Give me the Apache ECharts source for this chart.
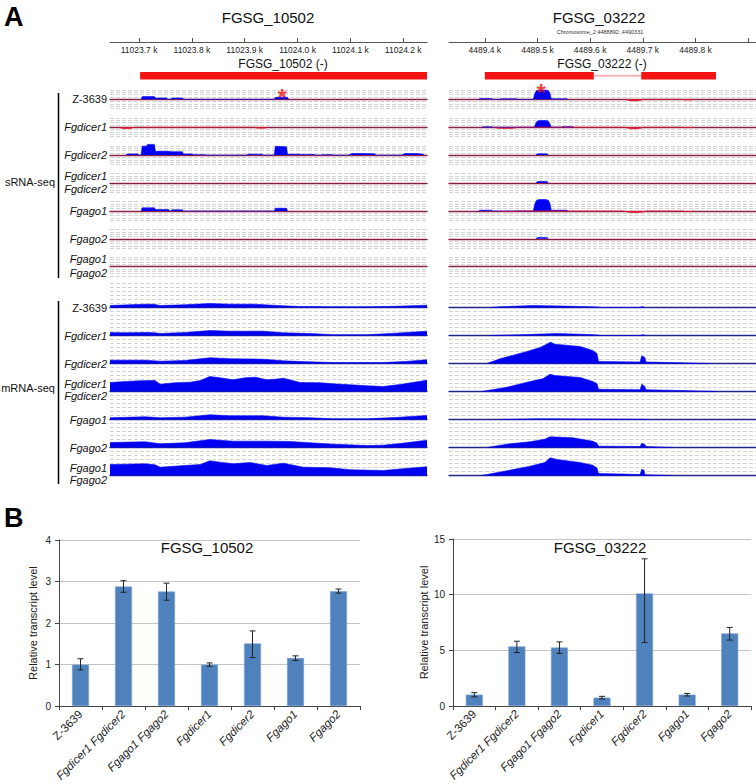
<!DOCTYPE html>
<html><head><meta charset="utf-8">
<script src="https://cdn.jsdelivr.net/npm/echarts@6/dist/echarts.min.js"></script>
<style>html,body{margin:0;padding:0;background:#fff}#c{width:756px;height:784px}</style>
</head><body><div id="c"></div>
<script>
// ================= DATA =================
// Panel A – genome browser (positions in bp, coverage in track units)
const leftRange = [11023645, 11024245];
const rightRange = [4489332, 4489915];
const leftRulerTicks = [11023700, 11023800, 11023900, 11024000, 11024100, 11024200];
const rightRulerLabels = [4489400, 4489500, 4489600, 4489700, 4489800];
const rightRulerTicks = [4489400, 4489500, 4489600, 4489700, 4489800, 4489900];
const geneLeft = [[11023702, 11024245, 1]];
const geneRight = [[4489400, 4489607, 1], [4489607, 4489697, 0], [4489697, 4489839, 1]];
const trackNames = [['Z-3639'], ['Fgdicer1'], ['Fgdicer2'], ['Fgdicer1', 'Fgdicer2'], ['Fgago1'], ['Fgago2'], ['Fgago1', 'Fgago2']];
const starLeft = [[11023971, 3.3]];
const starRight = [[4489507, 5.3]];

// sRNA-seq, FGSG_10502 (plus strand positive, minus strand negative)
const sL_Z_plus = [[11023704,0],[11023706,1.15],[11023729,1.15],[11023731,0.55],[11023752,0.55],[11023754,0],[11023760,0],[11023762,0.55],[11023782,0.55],[11023784,0],[11023956,0],[11023958,0.85],[11023981,0.85],[11023983,0]];
const sL_D1_minus = [[11023662,0],[11023668,-0.55],[11023677,-0.65],[11023685,-0.55],[11023691,0],[11023918,0],[11023924,-0.4],[11023938,-0.4],[11023944,0]];
const sL_D2_plus = [[11023675,0],[11023678,0.5],[11023698,0.5],[11023700,0],[11023704,0],[11023706,3.85],[11023714,3.85],[11023716,4.6],[11023729,4.6],[11023731,1.6],[11023758,1.6],[11023760,1.45],[11023782,1.45],[11023784,0.5],[11023801,0.5],[11023803,0.2],[11023825,0.2],[11023827,0],[11023903,0],[11023906,0.4],[11023932,0.4],[11023935,0],[11023956,0],[11023958,3.75],[11023968,3.7],[11023979,3.55],[11023981,0.4],[11024004,0.4],[11024006,0.3],[11024032,0.3],[11024034,0],[11024045,0],[11024047,0.2],[11024066,0.2],[11024068,0],[11024096,0],[11024102,0.65],[11024120,0.7],[11024145,0.6],[11024149,0],[11024197,0],[11024203,0.7],[11024225,0.65],[11024236,0.5],[11024240,0]];
const sL_A1_plus = [[11023704,0],[11023706,1.3],[11023729,1.3],[11023731,0.55],[11023756,0.55],[11023758,0],[11023760,0],[11023762,0.45],[11023782,0.45],[11023784,0],[11023956,0],[11023958,1.15],[11023979,1.1],[11023981,0]];

// sRNA-seq, FGSG_03222
const sR_Z_plus = [[4489388,0],[4489392,0.3],[4489412,0.3],[4489416,0],[4489427,0],[4489431,0.2],[4489459,0.2],[4489463,0],[4489492,0],[4489495,2.5],[4489498,3.7],[4489503,4.0],[4489516,4.0],[4489521,3.7],[4489524,2.5],[4489526,0.2],[4489555,0.2],[4489558,0]];
const sR_Z_minus = [[4489666,0],[4489674,-0.6],[4489684,-0.75],[4489694,-0.6],[4489702,0],[4489774,0],[4489780,-0.3],[4489791,-0.3],[4489797,0]];
const sR_D1_plus = [[4489394,0],[4489397,0.2],[4489413,0.2],[4489416,0],[4489494,0],[4489497,1.8],[4489500,2.7],[4489505,2.9],[4489515,2.9],[4489520,2.7],[4489523,1.8],[4489526,0],[4489544,0],[4489547,0.2],[4489566,0.2],[4489569,0]];
const sR_D1_minus = [[4489414,0],[4489425,-0.45],[4489440,-0.6],[4489455,-0.45],[4489463,0],[4489666,0],[4489674,-0.6],[4489684,-0.75],[4489694,-0.6],[4489702,0],[4489774,0],[4489780,-0.2],[4489791,-0.2],[4489797,0]];
const sR_D2_plus = [[4489497,0],[4489500,0.55],[4489518,0.55],[4489521,0]];
const sR_D12_plus = [[4489497,0],[4489500,0.6],[4489518,0.6],[4489521,0]];
const sR_A1_plus = [[4489388,0],[4489392,0.3],[4489412,0.3],[4489416,0],[4489492,0],[4489495,3.0],[4489498,4.5],[4489503,4.9],[4489516,4.9],[4489521,4.5],[4489524,3.0],[4489526,0.3],[4489555,0.3],[4489558,0]];
const sR_A1_minus = [[4489427,0],[4489433,-0.3],[4489455,-0.3],[4489461,0],[4489664,0],[4489672,-0.6],[4489684,-0.75],[4489698,-0.6],[4489708,0],[4489774,0],[4489780,-0.25],[4489791,-0.25],[4489797,0]];
const sR_A2_plus = [[4489497,0],[4489500,0.55],[4489518,0.55],[4489521,0]];

// mRNA-seq, FGSG_10502
const mL_Z = [[11023645,0.5],[11023683,0.68],[11023711,0.83],[11023727,0.83],[11023740,0.5],[11023787,0.68],[11023834,1.0],[11023872,0.83],[11023916,0.83],[11023973,0.43],[11024005,0.25],[11024067,0.2],[11024138,0.2],[11024185,0.3],[11024245,0.58]];
const mL_D1 = [[11023645,0.75],[11023674,0.68],[11023711,0.75],[11023730,0.68],[11023740,0.5],[11023787,0.75],[11023834,1.25],[11023872,1.08],[11023935,1.08],[11023973,0.68],[11024024,0.5],[11024067,0.2],[11024132,0.2],[11024185,0.58],[11024245,1.08]];
const mL_D2 = [[11023645,0.83],[11023711,0.83],[11023740,0.58],[11023787,0.75],[11023834,1.43],[11023872,1.18],[11023935,1.08],[11023973,0.68],[11024005,0.5],[11024067,0.25],[11024162,0.25],[11024204,0.5],[11024245,0.93]];
const mL_D12 = [[11023645,2.25],[11023674,2.5],[11023702,2.68],[11023730,2.75],[11023740,1.83],[11023768,2.18],[11023797,2.33],[11023816,2.75],[11023834,3.75],[11023853,3.43],[11023878,2.93],[11023901,3.43],[11023920,3.58],[11023942,2.93],[11023958,3.08],[11023973,3.33],[11024005,2.25],[11024043,2.18],[11024067,1.93],[11024100,1.68],[11024132,1.43],[11024162,1.25],[11024194,1.75],[11024245,2.83]];
const mL_A1 = [[11023645,0.43],[11023711,0.68],[11023740,0.43],[11023787,0.58],[11023834,1.18],[11023872,0.93],[11023935,0.93],[11023973,0.58],[11024024,0.43],[11024067,0.18],[11024132,0.18],[11024185,0.5],[11024245,1.0]];
const mL_A2 = [[11023645,1.25],[11023711,1.43],[11023740,0.93],[11023787,1.18],[11023834,2.0],[11023878,1.58],[11023942,1.58],[11023986,1.5],[11024067,0.83],[11024132,0.5],[11024162,0.58],[11024194,1.0],[11024245,1.83]];
const mL_A12 = [[11023645,2.75],[11023674,2.83],[11023711,2.93],[11023730,2.68],[11023740,2.08],[11023787,2.5],[11023816,2.75],[11023834,3.68],[11023853,3.33],[11023878,2.93],[11023910,3.25],[11023942,2.5],[11023973,3.08],[11024011,2.08],[11024062,1.93],[11024100,1.43],[11024162,1.25],[11024204,1.75],[11024245,2.18]];

// mRNA-seq, FGSG_03222
const mR_Z = [[4489410,0],[4489429,0.18],[4489491,0.5],[4489543,0.38],[4489615,0.13],[4489619,0],[4489695,0],[4489698,0.25],[4489704,0]];
const mR_D1 = [[4489410,0],[4489467,0.18],[4489537,0.5],[4489581,0.33],[4489615,0.13],[4489619,0],[4489695,0],[4489700,0.2],[4489706,0]];
const mR_D2 = [[4489404,0],[4489429,1.18],[4489480,3.0],[4489505,4.0],[4489520,5.0],[4489525,5.33],[4489533,4.83],[4489581,4.25],[4489605,3.25],[4489613,2.5],[4489616,0.5],[4489657,0.43],[4489695,0.38],[4489698,1.93],[4489704,1.5],[4489706,0.38],[4489752,0.25],[4489809,0.05],[4489828,0]];
const mR_D12 = [[4489394,0],[4489442,1.08],[4489486,2.5],[4489510,3.18],[4489524,4.33],[4489533,4.0],[4489581,3.5],[4489605,2.5],[4489613,2.0],[4489616,0.55],[4489657,0.5],[4489695,0.43],[4489698,1.83],[4489704,1.25],[4489706,0.43],[4489771,0.25],[4489841,0]];
const mR_A1 = [[4489429,0],[4489505,0.18],[4489581,0.13],[4489695,0.05],[4489714,0]];
const mR_A2 = [[4489404,0],[4489442,0.83],[4489486,1.43],[4489514,2.08],[4489524,2.68],[4489567,2.43],[4489605,1.58],[4489613,1.1],[4489616,0.33],[4489695,0.25],[4489698,1.08],[4489704,0.75],[4489706,0.25],[4489757,0]];
const mR_A12 = [[4489394,0],[4489442,1.18],[4489486,2.33],[4489514,3.25],[4489524,4.43],[4489537,4.0],[4489581,3.25],[4489605,2.58],[4489613,1.9],[4489616,0.5],[4489657,0.38],[4489695,0.25],[4489698,1.58],[4489702,1.38],[4489704,0.2],[4489757,0]];

// Panel B – qRT-PCR
const categories = ['Z-3639', 'Fgdicer1 Fgdicer2', 'Fgago1 Fgago2', 'Fgdicer1', 'Fgdicer2', 'Fgago1', 'Fgago2'];
const val10502 = [1.0, 2.88, 2.76, 1.0, 1.51, 1.16, 2.77];
const low10502 = [0.87, 2.74, 2.55, 0.96, 1.17, 1.10, 2.72];
const high10502 = [1.14, 3.02, 2.96, 1.04, 1.81, 1.21, 2.82];
const val03222 = [1.02, 5.35, 5.25, 0.75, 10.12, 1.02, 6.52];
const low03222 = [0.82, 4.80, 4.72, 0.63, 5.70, 0.90, 5.92];
const high03222 = [1.20, 5.82, 5.76, 0.87, 13.22, 1.13, 7.06];

// ================= LAYOUT / STYLE =================
const FONT = '"Liberation Sans", Arial, Helvetica, sans-serif';
const BLUE = '#0000f0', RED = '#e2162b', MAROON = '#8a2049', NAVY = '#25258e', DASH = '#d4d4d4';
const SIDE_L = {left: 110, width: 317}, SIDE_R = {left: 449, width: 307};
const sBase = [99.3, 127.2, 155.1, 183, 210.9, 238.8, 266.7];
const mBase = [307.5, 335.5, 363.5, 391.5, 419.5, 447.5, 475.5];
const S_UNIT = 2.33, M_UNIT = 4;

const srnaLeft = [[sL_Z_plus], [sL_D1_minus], [sL_D2_plus], [], [sL_A1_plus], [], []];
const srnaRight = [[sR_Z_plus, sR_Z_minus], [sR_D1_plus, sR_D1_minus], [sR_D2_plus], [sR_D12_plus], [sR_A1_plus, sR_A1_minus], [sR_A2_plus], []];
const mrnaLeft = [mL_Z, mL_D1, mL_D2, mL_D12, mL_A1, mL_A2, mL_A12];
const mrnaRight = [mR_Z, mR_D1, mR_D2, mR_D12, mR_A1, mR_A2, mR_A12];

const grids = [], xAxes = [], yAxes = [], series = [], graphics = [];
function addGrid(g, xa, ya) {
  const i = grids.length;
  grids.push(g); xa.gridIndex = i; ya.gridIndex = i; xAxes.push(xa); yAxes.push(ya);
  return i;
}
function trackGrid(side, range, top, height, ymin, ymax, baseColor) {
  return addGrid({left: side.left, top: top, width: side.width, height: height},
    {type: 'value', min: range[0], max: range[1], axisLine: {show: true, onZero: true, lineStyle: {color: baseColor, width: 1.4}},
      axisTick: {show: false}, axisLabel: {show: false}, splitLine: {show: false}},
    {type: 'value', min: ymin, max: ymax, interval: 1, axisLine: {show: false}, axisTick: {show: false}, axisLabel: {show: false},
      splitLine: {show: true, lineStyle: {color: DASH, width: 1, type: [4, 2]}}});
}
function areaSeries(gi, data) {
  const neg = data.some(d => d[1] < 0);
  const c = neg ? RED : BLUE;
  return {type: 'line', xAxisIndex: gi, yAxisIndex: gi, data: data, symbol: 'none', showSymbol: false, silent: true, clip: false,
    animation: false, lineStyle: {color: c, width: 0.6}, areaStyle: {color: c, opacity: 1}, z: 3};
}
function starSeries(gi, data) {
  return {type: 'scatter', xAxisIndex: gi, yAxisIndex: gi, data: data, symbolSize: 1, itemStyle: {color: 'rgba(0,0,0,0)'}, clip: false, silent: true, z: 6,
    label: {show: true, position: 'inside', formatter: '*', color: '#ee1111', fontSize: 24, fontWeight: 'bold', fontFamily: FONT, offset: [0, 6]}};
}
function text(x, y, str, opts) {
  graphics.push(Object.assign({type: 'text', x: x, y: y, z: 20, silent: true,
    style: Object.assign({text: str, fill: '#111', fontFamily: FONT, fontSize: 11, align: 'center', verticalAlign: 'middle'}, opts || {})}));
}

// ----- rulers -----
[[SIDE_L, leftRange, leftRulerTicks, leftRulerTicks], [SIDE_R, rightRange, rightRulerTicks, rightRulerLabels]].forEach(([side, range, ticks, labels]) => {
  addGrid({left: side.left, top: 30, width: side.width, height: 12},
    {type: 'value', min: range[0], max: range[1], position: 'bottom',
      axisLine: {show: true, onZero: false, lineStyle: {color: '#555', width: 1}},
      axisTick: {show: true, inside: true, length: 4, customValues: ticks, lineStyle: {color: '#555'}},
      axisLabel: {show: true, customValues: labels, formatter: v => (v / 1000).toFixed(1) + ' k', fontSize: 8.5, color: '#222', margin: 3, fontFamily: FONT},
      splitLine: {show: false}},
    {type: 'value', min: 0, max: 1, show: false});
});

// ----- gene models -----
[[SIDE_L, leftRange, geneLeft], [SIDE_R, rightRange, geneRight]].forEach(([side, range, gene]) => {
  const gi = addGrid({left: side.left, top: 72, width: side.width, height: 7.5},
    {type: 'value', min: range[0], max: range[1], show: false},
    {type: 'value', min: 0, max: 1, show: false});
  series.push({type: 'custom', xAxisIndex: gi, yAxisIndex: gi, data: gene, silent: true, clip: false,
    renderItem: (params, api) => {
      const a = api.coord([api.value(0), 1]), b = api.coord([api.value(1), 0]);
      if (api.value(2) === 1) {
        return {type: 'rect', shape: {x: a[0], y: a[1], width: b[0] - a[0], height: b[1] - a[1]}, style: {fill: '#f41212'}};
      }
      const mid = (a[1] + b[1]) / 2;
      return {type: 'rect', shape: {x: a[0], y: mid - 1, width: b[0] - a[0], height: 2}, style: {fill: '#f7b2bb'}};
    }});
});

// ----- sRNA tracks -----
for (let i = 0; i < 7; i++) {
  const top = sBase[i] - 4 * S_UNIT, h = 8 * S_UNIT;
  const gl = trackGrid(SIDE_L, leftRange, top, h, -4, 4, MAROON);
  srnaLeft[i].forEach(d => series.push(areaSeries(gl, d)));
  const gr = trackGrid(SIDE_R, rightRange, top, h, -4, 4, MAROON);
  srnaRight[i].forEach(d => series.push(areaSeries(gr, d)));
  if (i === 0) { series.push(starSeries(gl, starLeft)); series.push(starSeries(gr, starRight)); }
}
// ----- mRNA tracks -----
for (let i = 0; i < 7; i++) {
  const top = mBase[i] - 6 * M_UNIT, h = 6 * M_UNIT;
  const gl = trackGrid(SIDE_L, leftRange, top, h, 0, 6, NAVY);
  series.push(areaSeries(gl, mrnaLeft[i]));
  const gr = trackGrid(SIDE_R, rightRange, top, h, 0, 6, NAVY);
  series.push(areaSeries(gr, mrnaRight[i]));
}

// ----- Panel B bar charts -----
const categoryItems = categories.map(c => ({value: c, textStyle: {fontStyle: c === 'Z-3639' ? 'normal' : 'italic'}}));
function barChart(g, max, interval, vals, lows, highs) {
  const gi = addGrid(g,
    {type: 'category', data: categoryItems, boundaryGap: true,
      axisLine: {show: true, lineStyle: {color: '#444', width: 1}},
      axisTick: {show: true, length: 4, interval: 0, alignWithLabel: false, lineStyle: {color: '#444'}},
      axisLabel: {interval: 0, rotate: 45, margin: 6, color: '#222222', fontSize: 11.5, fontFamily: FONT, fontStyle: 'italic'},
      splitLine: {show: false}},
    {type: 'value', min: 0, max: max, interval: interval,
      axisLine: {show: true, lineStyle: {color: '#444', width: 1}},
      axisTick: {show: true, length: 4, lineStyle: {color: '#444'}},
      axisLabel: {fontSize: 10, color: '#222', margin: 8, fontFamily: FONT},
      splitLine: {show: true, lineStyle: {color: '#c4c4c4', width: 1}},
      name: 'Relative transcript level', nameLocation: 'middle', nameGap: max > 9 ? 24 : 21, nameRotate: 90,
      nameTextStyle: {fontSize: 11, color: '#222', fontFamily: FONT}});
  series.push({type: 'bar', xAxisIndex: gi, yAxisIndex: gi, data: vals, barWidth: 17, silent: true,
    itemStyle: {color: '#4f81bd', borderColor: '#7ea3d2', borderWidth: 0.6}, z: 2});
  series.push({type: 'custom', xAxisIndex: gi, yAxisIndex: gi, silent: true, z: 4,
    data: vals.map((v, k) => [k, lows[k], highs[k]]),
    encode: {x: 0, y: [1, 2]},
    renderItem: (params, api) => {
      const lo = api.coord([api.value(0), api.value(1)]), hi = api.coord([api.value(0), api.value(2)]);
      const st = {stroke: '#222', lineWidth: 1};
      return {type: 'group', children: [
        {type: 'line', shape: {x1: lo[0], y1: lo[1], x2: hi[0], y2: hi[1]}, style: st},
        {type: 'line', shape: {x1: hi[0] - 3, y1: hi[1], x2: hi[0] + 3, y2: hi[1]}, style: st},
        {type: 'line', shape: {x1: lo[0] - 3, y1: lo[1], x2: lo[0] + 3, y2: lo[1]}, style: st}
      ]};
    }});
}
barChart({left: 59, top: 540, width: 301, height: 168}, 4, 1, val10502, low10502, high10502);
barChart({left: 453, top: 539, width: 298, height: 167}, 15, 5, val03222, low03222, high03222);

// ----- texts -----
text(4, 17, 'A', {fontSize: 27, fontWeight: 'bold', align: 'left', fill: '#000'});
text(4, 518, 'B', {fontSize: 27, fontWeight: 'bold', align: 'left', fill: '#000'});
text(268, 17, 'FGSG_10502', {fontSize: 15});
text(599, 17, 'FGSG_03222', {fontSize: 15});
text(600, 31.5, 'Chromosome_2:4488892..4490331', {fontSize: 5.5, fill: '#333'});
text(283, 64, 'FGSG_10502 (-)', {fontSize: 12});
text(602, 63.5, 'FGSG_03222 (-)', {fontSize: 12});
text(207, 547, 'FGSG_10502', {fontSize: 15});
text(600, 547, 'FGSG_03222', {fontSize: 15});
text(55, 182, 'sRNA-seq', {align: 'right'});
text(55, 388, 'mRNA-seq', {align: 'right'});
graphics.push({type: 'line', silent: true, shape: {x1: 58.5, y1: 93, x2: 58.5, y2: 278}, style: {stroke: '#000', lineWidth: 1.5}});
graphics.push({type: 'line', silent: true, shape: {x1: 58.5, y1: 301, x2: 58.5, y2: 484}, style: {stroke: '#000', lineWidth: 1.5}});
function trackLabel(base, names, up, down) {
  const st = n => ({align: 'right', fontStyle: n === 'Z-3639' ? 'normal' : 'italic'});
  if (names.length === 1) text(107, base, names[0], st(names[0]));
  else { text(107, base - up, names[0], st(names[0])); text(107, base + down, names[1], st(names[1])); }
}
for (let i = 0; i < 7; i++) {
  trackLabel(sBase[i], trackNames[i], 7.5, 5.8);
  trackLabel(mBase[i], trackNames[i], 8, 4.6);
}

const chart = echarts.init(document.getElementById('c'), null, {renderer: 'svg', width: 756, height: 784});
chart.setOption({
  animation: false,
  backgroundColor: '#fff',
  textStyle: {fontFamily: FONT},
  grid: grids, xAxis: xAxes, yAxis: yAxes, series: series, graphic: graphics
});
</script></body></html>
